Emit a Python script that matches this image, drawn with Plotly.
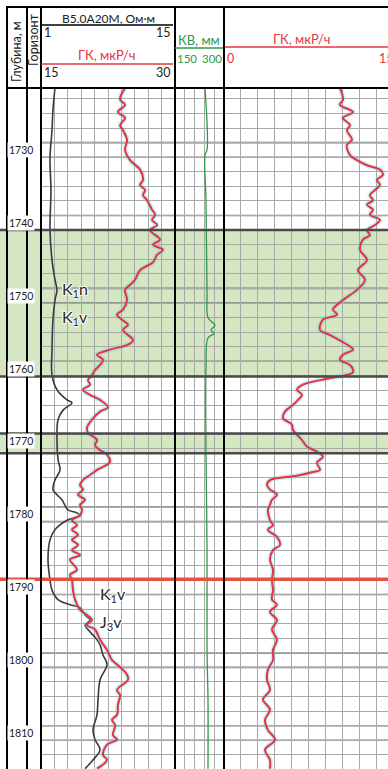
import plotly.graph_objects as go

# ---------------- data ----------------
depth_ticks = [1730, 1740, 1750, 1760, 1770, 1780, 1790, 1800, 1810]

res_depth = [1721.5, 1724.5, 1727.3, 1731.0, 1735.5, 1741.0, 1745.1, 1747.8, 1749.2, 1750.6,
             1753.3, 1757.4, 1760.9, 1762.9, 1764.3, 1764.7, 1765.7, 1767.0, 1769.8, 1772.5,
             1773.9, 1775.3, 1776.6, 1777.3, 1778.0, 1779.4, 1779.8, 1780.2, 1780.8, 1782.1,
             1783.5, 1786.2, 1789.0, 1790.4, 1791.7, 1792.4, 1792.8, 1793.8, 1794.5, 1795.2,
             1795.8, 1797.2, 1797.9, 1799.3, 1800.6, 1802.7, 1805.4, 1807.5, 1809.6, 1810.9,
             1812.3, 1813.7, 1814.9]
res_vals = [2.46, 2.25, 2.15, 1.94, 2.04, 1.94, 2.15, 2.46, 2.67, 2.46,
            2.25, 2.15, 2.15, 2.67, 3.72, 4.24, 3.30, 2.78, 2.67, 2.78,
            2.99, 2.46, 2.25, 2.67, 3.19, 3.82, 4.76, 5.08, 3.72, 2.46,
            1.94, 1.73, 1.94, 2.15, 2.78, 4.03, 5.08, 5.60, 6.12, 5.60,
            5.91, 6.85, 7.17, 7.48, 7.90, 7.17, 6.96, 6.85, 6.43, 6.64,
            7.17, 6.43, 5.60]

gk1_depth = [1721.5, 1723.1, 1723.8, 1724.8, 1725.6, 1726.6, 1727.3, 1728.6, 1730.0, 1731.4,
             1732.7, 1734.1, 1734.8, 1735.5, 1736.2, 1736.9, 1738.2, 1738.9, 1739.6, 1740.3,
             1741.0, 1742.3, 1743.0, 1743.7, 1744.4, 1745.4, 1746.5, 1747.8, 1748.5, 1749.2,
             1750.6, 1751.9, 1752.6, 1753.3, 1754.0, 1754.7, 1756.1, 1756.7, 1757.4, 1758.1,
             1758.8, 1759.5, 1760.2, 1760.9, 1761.6, 1762.2, 1762.9, 1763.6, 1764.3, 1765.3,
             1765.9, 1767.0, 1768.1, 1768.8, 1769.8, 1770.5, 1771.2, 1771.8, 1772.8, 1773.9,
             1774.6, 1775.3, 1776.0, 1776.6, 1777.3, 1778.0, 1778.7, 1779.4, 1780.1, 1780.8,
             1781.5, 1782.1, 1782.8, 1783.5, 1784.2, 1784.9, 1785.6, 1786.2, 1787.6, 1788.3,
             1789.0, 1790.4, 1791.7, 1793.1, 1793.8, 1794.5, 1795.2, 1795.8, 1797.2, 1798.6,
             1800.0, 1800.6, 1802.0, 1802.7, 1804.1, 1804.8, 1806.1, 1807.5, 1808.2, 1808.9,
             1810.3, 1810.9, 1811.6, 1813.0, 1813.7, 1814.9]
gk1_vals = [24.41, 23.85, 24.41, 23.62, 24.41, 23.85, 24.18, 24.63, 24.41, 24.97,
            26.09, 26.42, 26.09, 26.65, 26.42, 26.87, 27.43, 27.77, 27.43, 27.99,
            27.21, 28.33, 27.54, 28.66, 27.99, 27.54, 26.09, 25.53, 24.97, 24.41,
            24.63, 24.18, 23.51, 24.07, 24.74, 24.18, 25.30, 24.74, 22.73, 21.27,
            21.94, 21.61, 21.05, 20.71, 20.26, 20.49, 19.70, 20.49, 21.61, 22.50,
            21.61, 20.71, 20.15, 20.26, 21.27, 21.05, 21.61, 22.39, 22.73, 21.27,
            20.49, 19.70, 19.37, 19.70, 19.14, 19.93, 19.37, 19.59, 19.37, 18.47,
            19.03, 18.47, 19.14, 18.47, 19.14, 18.47, 19.37, 18.25, 19.03, 18.25,
            18.47, 18.58, 18.81, 19.37, 20.15, 20.71, 20.15, 21.05, 21.61, 22.39,
            22.95, 23.51, 24.63, 24.74, 23.51, 23.85, 23.62, 23.51, 22.95, 23.29,
            23.06, 23.51, 22.39, 21.94, 22.39, 21.27]

kv_depth = [1721.5, 1730.0, 1730.7, 1736.9, 1749.2, 1753.0, 1753.6, 1754.1, 1754.7, 1755.2,
            1755.8, 1760.2, 1771.2, 1784.9, 1798.6, 1805.4, 1814.9]
kv_vals = [241.8, 248.0, 241.8, 244.9, 248.0, 251.0, 263.3, 272.4, 260.2, 269.4,
           251.0, 244.9, 244.9, 248.0, 248.0, 251.0, 251.0]

gk2_depth = [1721.5, 1723.1, 1723.8, 1724.8, 1725.6, 1726.6, 1727.3, 1728.6, 1729.3, 1730.7,
             1731.4, 1732.1, 1732.7, 1733.4, 1734.1, 1734.8, 1735.5, 1736.2, 1736.9, 1737.5,
             1738.2, 1738.9, 1739.6, 1740.3, 1741.0, 1741.7, 1742.3, 1743.7, 1745.1, 1746.5,
             1747.8, 1749.2, 1750.6, 1751.9, 1752.6, 1753.3, 1754.7, 1755.4, 1756.7, 1757.4,
             1758.1, 1758.8, 1759.5, 1760.5, 1761.3, 1762.2, 1762.9, 1763.6, 1764.3, 1765.0,
             1765.9, 1766.8, 1767.7, 1768.4, 1769.8, 1770.7, 1771.4, 1772.1, 1772.9, 1773.9,
             1774.2, 1774.7, 1775.3, 1776.0, 1776.6, 1777.3, 1778.0, 1778.7, 1779.4, 1780.8,
             1781.5, 1782.1, 1783.1, 1784.2, 1784.9, 1786.2, 1787.6, 1789.0, 1790.4, 1791.7,
             1792.4, 1793.4, 1794.5, 1795.8, 1797.2, 1798.6, 1800.0, 1801.3, 1802.7, 1804.1,
             1805.4, 1806.8, 1808.2, 1809.6, 1810.9, 1812.3, 1813.7, 1814.9]
gk2_vals = [10.29, 10.56, 10.29, 11.45, 10.56, 11.18, 10.91, 11.36, 10.91, 11.18,
            11.80, 12.69, 13.84, 14.11, 13.58, 13.84, 13.40, 12.95, 13.22, 12.69,
            13.22, 12.95, 13.84, 13.40, 12.69, 12.95, 12.33, 12.07, 12.69, 11.89,
            12.51, 11.80, 10.56, 9.67, 10.03, 8.78, 8.52, 9.41, 10.91, 11.45,
            10.56, 10.29, 11.18, 11.45, 9.41, 7.01, 6.48, 6.92, 6.57, 6.12,
            5.41, 5.24, 6.03, 6.12, 6.92, 7.36, 8.25, 8.78, 8.25, 8.52,
            7.90, 6.48, 4.08, 3.82, 4.08, 4.70, 4.26, 4.08, 3.90, 4.08,
            4.35, 3.90, 4.70, 4.97, 4.35, 4.08, 4.35, 4.26, 4.35, 4.26,
            4.70, 4.08, 4.70, 4.26, 4.70, 4.35, 4.35, 3.90, 3.82, 4.08,
            3.46, 4.08, 3.64, 3.90, 4.53, 3.64, 4.08, 4.08]

zones = [(1741.0, 1761.1), (1768.9, 1771.6)]
red_marker_depth = 1788.9
dark_grid_depths = [1729, 1731, 1739, 1749, 1751, 1759, 1779, 1781, 1791, 1799, 1801, 1809, 1811]

horizons = [("K<sub>1</sub>n", 2.99, 1749.2), ("K<sub>1</sub>v", 2.99, 1753.0),
            ("K<sub>1</sub>v", 6.96, 1791.0), ("J<sub>3</sub>v", 6.96, 1794.9)]

# ---------------- layout helpers ----------------
W, H, TOP = 388, 769, 88
PLOT_H = H - TOP


def px(x):
    return x / W


def py(y):
    return (H - y) / PLOT_H


RED = "#e3343e"
GREEN = "#2e9a4a"
FONT = "Lato"
GRID = "#a9a9a9"

fig = go.Figure()
fig.add_trace(go.Scatter(x=gk1_vals, y=gk1_depth, xaxis="x2", yaxis="y", mode="lines",
                         line=dict(color="rgba(120,200,230,0.35)", width=5, shape="spline"),
                         hoverinfo="skip"))
fig.add_trace(go.Scatter(x=res_vals, y=res_depth, xaxis="x", yaxis="y", mode="lines",
                         line=dict(color="#3a3a3a", width=1.6, shape="spline")))
fig.add_trace(go.Scatter(x=gk1_vals, y=gk1_depth, xaxis="x2", yaxis="y", mode="lines",
                         line=dict(color=RED, width=2, shape="spline")))
fig.add_trace(go.Scatter(x=kv_vals, y=kv_depth, xaxis="x3", yaxis="y", mode="lines",
                         line=dict(color=GREEN, width=1.3, shape="spline")))
fig.add_trace(go.Scatter(x=gk2_vals, y=gk2_depth, xaxis="x4", yaxis="y", mode="lines",
                         line=dict(color="rgba(120,200,230,0.35)", width=5, shape="spline"),
                         hoverinfo="skip"))
fig.add_trace(go.Scatter(x=gk2_vals, y=gk2_depth, xaxis="x4", yaxis="y", mode="lines",
                         line=dict(color=RED, width=2, shape="spline")))

ax_common = dict(showticklabels=False, zeroline=False, showline=False, ticks="",
                 gridcolor=GRID, gridwidth=1, fixedrange=True)
gk2_max = 15 * (W - 224) / (393 - 224)

fig.update_layout(
    width=W, height=H, showlegend=False,
    margin=dict(l=0, r=0, t=TOP, b=0, pad=0),
    paper_bgcolor="white", plot_bgcolor="white",
    font=dict(family=FONT, size=11, color="#222"),
    xaxis=dict(domain=[px(41), px(175)], range=[1, 15], showgrid=False, anchor="y", **ax_common),
    xaxis2=dict(domain=[px(41), px(175)], range=[15, 30], overlaying="x", anchor="y",
                showgrid=True, tick0=15, dtick=1.5, **ax_common),
    xaxis3=dict(domain=[px(175), px(224)], range=[150, 300], anchor="y",
                showgrid=True, tick0=150, dtick=30, **ax_common),
    xaxis4=dict(domain=[px(224), 1], range=[0, gk2_max], anchor="y",
                showgrid=True, tick0=0, dtick=1.5, **ax_common),
    yaxis=dict(domain=[0, 1], range=[1814.94, 1721.5], anchor="x", showgrid=True,
               tick0=1721, dtick=2, **ax_common),
)

shapes = []
for z0, z1 in zones:
    shapes.append(dict(type="rect", xref="paper", yref="y", x0=0, x1=1, y0=z0, y1=z1,
                       fillcolor="rgba(160,200,120,0.45)", line=dict(width=0), layer="below"))
for d in dark_grid_depths:
    shapes.append(dict(type="line", xref="paper", yref="y", x0=px(41), x1=1, y0=d, y1=d,
                       line=dict(color="#7a7a7a", width=1.6), layer="below"))
for z0, z1 in zones:
    for d in (z0, z1):
        shapes.append(dict(type="line", xref="paper", yref="y", x0=0, x1=1, y0=d, y1=d,
                           line=dict(color="#4a4a4a", width=2.5), layer="above"))
shapes.append(dict(type="line", xref="paper", yref="y", x0=0, x1=1,
                   y0=red_marker_depth, y1=red_marker_depth,
                   line=dict(color="#e8503f", width=3.5), layer="above"))
for xv in (7, 27, 41, 175, 224):
    shapes.append(dict(type="line", xref="paper", yref="paper", x0=px(xv), x1=px(xv),
                       y0=0, y1=py(7), line=dict(color="black", width=2), layer="above"))
for yv in (7, 88):
    shapes.append(dict(type="line", xref="paper", yref="paper", x0=px(6), x1=1,
                       y0=py(yv), y1=py(yv), line=dict(color="black", width=2), layer="above"))
shapes.append(dict(type="line", xref="paper", yref="paper", x0=px(41), x1=px(173),
                   y0=py(25), y1=py(25), line=dict(color="black", width=1.5)))
shapes.append(dict(type="line", xref="paper", yref="paper", x0=px(41), x1=px(173),
                   y0=py(64), y1=py(64), line=dict(color=RED, width=1.5)))
shapes.append(dict(type="line", xref="paper", yref="paper", x0=px(175), x1=px(223),
                   y0=py(48), y1=py(48), line=dict(color=GREEN, width=1.5)))
shapes.append(dict(type="line", xref="paper", yref="paper", x0=px(225), x1=1,
                   y0=py(47), y1=py(47), line=dict(color=RED, width=1.5)))
fig.update_layout(shapes=shapes)

ann = []


def txt(text, x, y, color="#222", size=12.5, xanchor="center", angle=0):
    ann.append(dict(text=text, x=px(x), y=py(y), xref="paper", yref="paper",
                    xanchor=xanchor, yanchor="middle", showarrow=False, textangle=angle,
                    font=dict(family=FONT, size=size, color=color)))


txt("Глубина, м", 16, 52, angle=-90, size=12.5)
txt("Горизонт", 34, 40, angle=-90, size=12.5)
txt("B5.0A20M, Ом·м", 108, 18, size=12)
txt("1", 42, 32, xanchor="left")
txt("15", 173, 32, xanchor="right")
txt("ГК, мкР/ч", 107, 55, color=RED, size=13)
txt("15", 42, 72, xanchor="left")
txt("30", 173, 72, xanchor="right")
txt("КВ, мм", 199, 40, color=GREEN, size=13)
txt("150", 175, 59, color=GREEN, xanchor="left", size=11.5)
txt("300", 224, 59, color=GREEN, xanchor="right", size=11.5)
txt("ГК, мкР/ч", 302, 39, color=RED, size=13)
txt("0", 225, 59, color=RED, xanchor="left")
txt("15", 377, 59, color=RED, xanchor="left")

for d in depth_ticks:
    ann.append(dict(text=str(d), x=px(21), y=d, xref="paper", yref="y", showarrow=False,
                    xanchor="center", yanchor="middle", bgcolor="white", borderpad=1,
                    font=dict(family=FONT, size=10.5, color="#222")))

for t, xv, d in horizons:
    ann.append(dict(text=t, x=xv, y=d, xref="x", yref="y", showarrow=False,
                    xanchor="left", yanchor="middle",
                    font=dict(family=FONT, size=16, color="#2a2a2a",
                              shadow="1px 1px 1px white, -1px -1px 1px white, 1px -1px 1px white, -1px 1px 1px white")))

fig.update_layout(annotations=ann)
fig.write_html("out.html", config={"displayModeBar": False},
               post_script="document.body.style.margin='0';document.body.style.overflow='hidden';")
